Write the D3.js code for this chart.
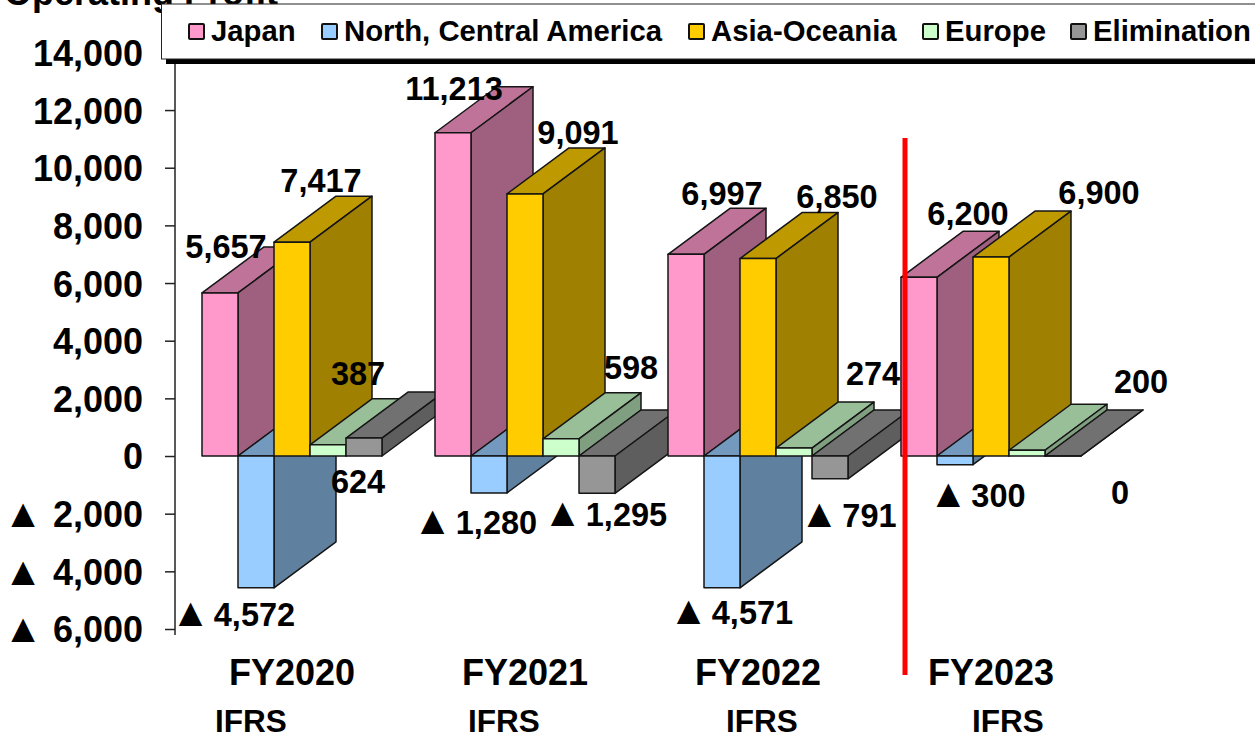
<!DOCTYPE html>
<html>
<head>
<meta charset="utf-8">
<title>Operating Profit</title>
<script src="https://cdn.jsdelivr.net/npm/d3@7/dist/d3.min.js"></script>
<style>
  html, body { margin: 0; padding: 0; background: #fff; overflow: hidden; }
  svg { display: block; }
  text { font-family: "Liberation Sans", Arial, sans-serif; font-weight: bold; fill: #000; }
</style>
</head>
<body>
<svg id="chart" width="1255" height="733"></svg>
<script>
  'use strict';

  var years = ["FY2020", "FY2021", "FY2022", "FY2023"];
  var regions = ["Japan", "North, Central America", "Asia-Oceania", "Europe", "Elimination"];
  var japan = [5657, 11213, 6997, 6200];
  var northAmerica = [-4572, -1280, -4571, -300];
  var asiaOceania = [7417, 9091, 6850, 6900];
  var europe = [387, 598, 274, 200];
  var elimination = [624, -1295, -791, 0];
  var yTicks = [14000, 12000, 10000, 8000, 6000, 4000, 2000, 0, -2000, -4000, -6000];
  var standards = ["IFRS", "IFRS", "IFRS", "IFRS"];

  var seriesValues = [japan, northAmerica, asiaOceania, europe, elimination];
  var regionColors = ["#ff99cc", "#99ccff", "#ffcc00", "#ccffcc", "#969696"];

  // Hand placed value labels: offset from the front top centre of each bar, [series][year].
  var labelDx = [[6, 1, 36, 49], [-23, -14, 9, 22], [29, 53, 79, 108], [30, 70, 79, 114], [-6, 8, 18, 57]];
  var labelDy = [[-35, -33, -49, -52], [38, 41, 36, 42], [-50, -50, -51, -53], [-60, -60, -63, -57], [55, 33, 48, 48]];
  var standardDx = [49, 69, 94, 107];

  // Depth of the fake 3D extrusion.
  var depth = { x: 62, y: -46 };

  var svg = d3.select("#chart");

  var y = d3.scaleLinear().domain([-6000, 14000]).range([629, 52.4]);
  var xYear = d3.scaleBand().domain(years).range([202, 202 + 233 * 4]);
  var xRegion = d3.scaleBand().domain(d3.range(regions.length)).range([0, 180]);

  // Negative numbers are written with a triangle on the source slide.
  function formatValue(v) {
    return d3.format(",")(Math.abs(v));
  }

  // The triangle glyph is drawn larger than the digits next to it.
  function writeValue(selection, gapSize) {
    selection.each(function(v) {
      var t = d3.select(this).text(null);
      if (v < 0) {
        t.append("tspan").style("font-size", "40px").text("▲");
        t.append("tspan").style("font-size", gapSize).text(" ");
      }
      t.append("tspan").text(formatValue(v));
    });
  }

  function shade(color, k) {
    var c = d3.rgb(color);
    return d3.rgb(c.r * k, c.g * k, c.b * k).formatHex();
  }

  // Title is cut off by the top of the picture.
  svg.append("text")
    .attr("x", 4)
    .attr("y", 5)
    .style("font-size", "36px")
    .text("Operating Profit");

  // Y axis
  var axis = svg.append("g")
    .attr("transform", "translate(175,0)")
    .call(d3.axisLeft(y).tickValues(yTicks).tickSize(10).tickPadding(22).tickFormat(formatValue));
  axis.select(".domain").attr("stroke", "#222").attr("stroke-width", 1.5).attr("d", "M0," + y(14000) + "V" + (y(-6000) + 6));
  axis.selectAll(".tick line").attr("stroke", "#222").attr("stroke-width", 1.5);
  axis.selectAll(".tick text")
    .style("font-size", "36px")
    .attr("dy", "0.36em")
    .attr("font-family", null)
    .attr("fill", "#000")
    .call(writeValue, "36px");

  // Bars, flattened in drawing order
  var bars = [];
  years.forEach(function(year, g) {
    seriesValues.forEach(function(values, s) {
      bars.push({ year: year, g: g, s: s, value: values[g] });
    });
  });

  var line = d3.line();

  function face(x0, x1, y0, y1, kind) {
    if (kind === "front") return [[x0, y0], [x1, y0], [x1, y1], [x0, y1]];
    if (kind === "top") return [[x0, y0], [x1, y0], [x1 + depth.x, y0 + depth.y], [x0 + depth.x, y0 + depth.y]];
    return [[x1, y0], [x1 + depth.x, y0 + depth.y], [x1 + depth.x, y1 + depth.y], [x1, y1]];
  }

  var bar = svg.append("g").selectAll("g.bar")
    .data(bars)
    .enter().append("g")
    .attr("class", "bar");

  [["top", 0.75], ["side", 0.625], ["front", 1]].forEach(function(f) {
    bar.append("path")
      .attr("d", function(d) {
        var x0 = xYear(d.year) + xRegion(d.s);
        var x1 = x0 + xRegion.bandwidth();
        return line(face(x0, x1, y(Math.max(d.value, 0)), y(Math.min(d.value, 0)), f[0])) + "Z";
      })
      .attr("fill", function(d) { return shade(regionColors[d.s], f[1]); })
      .attr("stroke", "#151515")
      .attr("stroke-width", 1.5)
      .attr("stroke-linejoin", "round");
  });

  // Value labels
  svg.append("g").selectAll("text")
    .data(bars)
    .enter().append("text")
    .attr("x", function(d) { return xYear(d.year) + xRegion(d.s) + xRegion.bandwidth() / 2 + labelDx[d.s][d.g]; })
    .attr("y", function(d) { return y(d.value) + labelDy[d.s][d.g]; })
    .attr("text-anchor", "middle")
    .style("font-size", "32.5px")
    .each(function(d) { d3.select(this).datum(d.value).call(writeValue, "12px").datum(d); });

  // Category labels
  svg.append("g").selectAll("text")
    .data(years)
    .enter().append("text")
    .attr("x", function(d) { return xYear(d) + 90; })
    .attr("y", 685)
    .attr("text-anchor", "middle")
    .style("font-size", "36px")
    .text(function(d) { return d; });

  svg.append("g").selectAll("text")
    .data(standards)
    .enter().append("text")
    .attr("x", function(d, i) { return xYear(years[i]) + standardDx[i]; })
    .attr("y", 732)
    .attr("text-anchor", "middle")
    .style("font-size", "31.5px")
    .text(function(d) { return d; });

  // Divider between results and the forecast year
  svg.append("line")
    .attr("x1", 905).attr("x2", 905)
    .attr("y1", 138).attr("y2", 675)
    .attr("stroke", "#ff0000")
    .attr("stroke-width", 5);

  // Legend
  svg.append("rect").attr("x", 166).attr("y", 9).attr("width", 1100).attr("height", 55).attr("fill", "#000");
  svg.append("rect").attr("x", 161.5).attr("y", 4).attr("width", 1100).attr("height", 55)
    .attr("fill", "#fff").attr("stroke", "#222").attr("stroke-width", 1);

  var legendX = [188, 321, 688, 922, 1070];
  var legend = svg.append("g").selectAll("g")
    .data(regions)
    .enter().append("g")
    .attr("transform", function(d, i) { return "translate(" + legendX[i] + ",0)"; });

  legend.append("rect")
    .attr("x", 1).attr("y", 24).attr("width", 15).attr("height", 15)
    .attr("rx", 1)
    .attr("fill", function(d, i) { return regionColors[i]; })
    .attr("stroke", "#111")
    .attr("stroke-width", 2);

  legend.append("text")
    .attr("x", 23)
    .attr("y", 41)
    .style("font-size", "29.3px")
    .text(function(d) { return d; });
</script>
</body>
</html>
